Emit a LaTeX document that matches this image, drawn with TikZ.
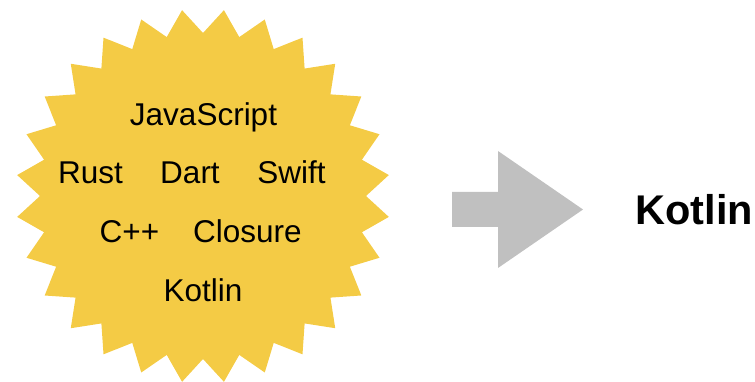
\documentclass[tikz,border=0pt]{standalone}
\usepackage{fontspec}
\setmainfont{Liberation Sans}
\usepackage{xcolor}
\usepackage{tikz}
\usetikzlibrary{calc}

\definecolor{staryellow}{RGB}{244,203,69}
\definecolor{arrowgray}{RGB}{192,192,192}

\tikzset{
  lang/.style={anchor=base, font=\fontsize{31.5}{37}\selectfont},
  result/.style={anchor=base west, font=\fontsize{41.5}{50}\selectfont\bfseries}
}

\begin{document}
\begin{tikzpicture}[x=1pt,y=1pt]
  \useasboundingbox (0,0) rectangle (755,382);
  \coordinate (c) at (203,186);

  \fill[staryellow] (c) ++(6.4286:187)
    \foreach \k in {1,...,55} {
      -- ($(c)+({6.4286+\k*6.4286}:{mod(\k,2)==0 ? 187 : 163})$)
    } -- cycle;

  \node[lang] (js)      at (203.5,256) {JavaScript};
  \node[lang] (rust)    at (90.5,198)  {Rust};
  \node[lang] (dart)    at (190,198)   {Dart};
  \node[lang] (swift)   at (291.5,198) {Swift};
  \node[lang] (cpp)     at (129.5,139) {C++};
  \node[lang] (closure) at (247.5,139) {Closure};
  \node[lang] (kotlin)  at (203,80)    {Kotlin};

  \fill[arrowgray] (452,155) -- (498,155) -- (498,114) -- (583,172.5)
    -- (498,231) -- (498,190) -- (452,190) -- cycle;

  \node[result] (target) at (632,157) {Kotlin};
\end{tikzpicture}
\end{document}
